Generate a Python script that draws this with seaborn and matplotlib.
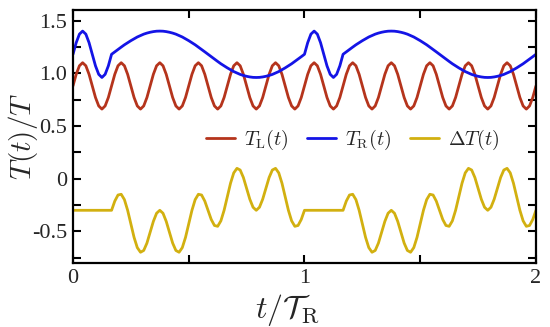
import numpy as np
import matplotlib
matplotlib.use("Agg")
import matplotlib.pyplot as plt
import seaborn as sns
from matplotlib.ticker import FixedLocator, FixedFormatter, MultipleLocator

# sample times t / T_R (uniform sampling grid, 145 samples over 0..2)
t = np.linspace(0, 2, 145)

# T_L(t)/T
T_L = [0.88, 0.99, 1.071, 1.10, 1.071, 0.99, 0.88, 0.77, 0.69, 0.66, 0.69, 0.77,
       0.88, 0.99, 1.071, 1.10, 1.071, 0.99, 0.88, 0.77, 0.69, 0.66, 0.69, 0.77,
       0.88, 0.99, 1.071, 1.10, 1.071, 0.99, 0.88, 0.77, 0.69, 0.66, 0.69, 0.77,
       0.88, 0.99, 1.071, 1.10, 1.071, 0.99, 0.88, 0.77, 0.69, 0.66, 0.69, 0.77,
       0.88, 0.99, 1.071, 1.10, 1.071, 0.99, 0.88, 0.77, 0.69, 0.66, 0.69, 0.77,
       0.88, 0.99, 1.071, 1.10, 1.071, 0.99, 0.88, 0.77, 0.69, 0.66, 0.69, 0.77,
       0.88, 0.99, 1.071, 1.10, 1.071, 0.99, 0.88, 0.77, 0.69, 0.66, 0.69, 0.77,
       0.88, 0.99, 1.071, 1.10, 1.071, 0.99, 0.88, 0.77, 0.69, 0.66, 0.69, 0.77,
       0.88, 0.99, 1.071, 1.10, 1.071, 0.99, 0.88, 0.77, 0.69, 0.66, 0.69, 0.77,
       0.88, 0.99, 1.071, 1.10, 1.071, 0.99, 0.88, 0.77, 0.69, 0.66, 0.69, 0.77,
       0.88, 0.99, 1.071, 1.10, 1.071, 0.99, 0.88, 0.77, 0.69, 0.66, 0.69, 0.77,
       0.88, 0.99, 1.071, 1.10, 1.071, 0.99, 0.88, 0.77, 0.69, 0.66, 0.69, 0.77,
       0.88]

# T_R(t)/T
T_R = [1.18, 1.29, 1.371, 1.40, 1.371, 1.29, 1.18, 1.07, 0.99, 0.96, 0.99, 1.07, 1.18,
       1.203, 1.226, 1.248, 1.270, 1.290, 1.309, 1.327, 1.344, 1.358, 1.371,
       1.381, 1.389, 1.395, 1.399, 1.400, 1.399, 1.395, 1.389, 1.381, 1.371,
       1.358, 1.344, 1.327, 1.309, 1.290, 1.270, 1.248, 1.226, 1.203, 1.180,
       1.157, 1.134, 1.112, 1.090, 1.070, 1.051, 1.033, 1.016, 1.002, 0.989,
       0.979, 0.971, 0.965, 0.961, 0.960, 0.961, 0.965, 0.971, 0.979, 0.989,
       1.002, 1.016, 1.033, 1.051, 1.070, 1.090, 1.112, 1.134, 1.157, 1.180,
       1.29, 1.371, 1.40, 1.371, 1.29, 1.18, 1.07, 0.99, 0.96, 0.99, 1.07, 1.18,
       1.203, 1.226, 1.248, 1.270, 1.290, 1.309, 1.327, 1.344, 1.358, 1.371,
       1.381, 1.389, 1.395, 1.399, 1.400, 1.399, 1.395, 1.389, 1.381, 1.371,
       1.358, 1.344, 1.327, 1.309, 1.290, 1.270, 1.248, 1.226, 1.203, 1.180,
       1.157, 1.134, 1.112, 1.090, 1.070, 1.051, 1.033, 1.016, 1.002, 0.989,
       0.979, 0.971, 0.965, 0.961, 0.960, 0.961, 0.965, 0.971, 0.979, 0.989,
       1.002, 1.016, 1.033, 1.051, 1.070, 1.090, 1.112, 1.134, 1.157, 1.180]

# Delta T(t)/T
dT = [-0.30, -0.30, -0.30, -0.30, -0.30, -0.30, -0.30, -0.30, -0.30, -0.30, -0.30, -0.30, -0.30,
      -0.213, -0.155, -0.148, -0.199, -0.300, -0.429, -0.557, -0.654, -0.698, -0.681,
      -0.611, -0.509, -0.405, -0.328, -0.300, -0.328, -0.405, -0.509, -0.611, -0.681,
      -0.698, -0.654, -0.557, -0.429, -0.300, -0.199, -0.148, -0.155, -0.213, -0.300,
      -0.387, -0.444, -0.452, -0.400, -0.300, -0.171, -0.043, 0.055, 0.098, 0.082,
      0.011, -0.091, -0.195, -0.271, -0.300, -0.271, -0.195, -0.091, 0.011, 0.082,
      0.098, 0.055, -0.043, -0.171, -0.300, -0.400, -0.452, -0.444, -0.387, -0.300,
      -0.30, -0.30, -0.30, -0.30, -0.30, -0.30, -0.30, -0.30, -0.30, -0.30, -0.30, -0.30,
      -0.213, -0.155, -0.148, -0.199, -0.300, -0.429, -0.557, -0.654, -0.698, -0.681,
      -0.611, -0.509, -0.405, -0.328, -0.300, -0.328, -0.405, -0.509, -0.611, -0.681,
      -0.698, -0.654, -0.557, -0.429, -0.300, -0.199, -0.148, -0.155, -0.213, -0.300,
      -0.387, -0.444, -0.452, -0.400, -0.300, -0.171, -0.043, 0.055, 0.098, 0.082,
      0.011, -0.091, -0.195, -0.271, -0.300, -0.271, -0.195, -0.091, 0.011, 0.082,
      0.098, 0.055, -0.043, -0.171, -0.300, -0.400, -0.452, -0.444, -0.387, -0.300]

series_labels = [r'$T_{\rm L}(t)$', r'$T_{\rm R}(t)$', r'$\Delta T(t)$']
series_colors = ['#b5341c', '#1414e6', '#d2b010']

x_ticks = [0, 1, 2]
x_ticklabels = ['0', '1', '2']
y_ticks = [-0.5, 0, 0.5, 1.0, 1.5]
y_ticklabels = ['-0.5', '0', '0.5', '1.0', '1.5']

sns.set_style("ticks")
plt.rcParams['font.family'] = ['Liberation Serif', 'DejaVu Serif']
plt.rcParams['mathtext.fontset'] = 'cm'
plt.rcParams['axes.unicode_minus'] = False

fig = plt.figure(figsize=(5.5, 3.27), dpi=100)
ax = fig.add_axes([0.1327, 0.1957, 0.8418, 0.7737])

for ys, lab, col in zip([T_L, T_R, dT], series_labels, series_colors):
    sns.lineplot(x=t, y=ys, ax=ax, color=col, lw=2.0, label=lab,
                 estimator=None, sort=False)

ax.set_xlim(0, 2)
ax.set_ylim(-0.8, 1.6)
ax.xaxis.set_major_locator(FixedLocator(x_ticks))
ax.xaxis.set_major_formatter(FixedFormatter(x_ticklabels))
ax.xaxis.set_minor_locator(MultipleLocator(0.5))
ax.yaxis.set_major_locator(FixedLocator(y_ticks))
ax.yaxis.set_major_formatter(FixedFormatter(y_ticklabels))
ax.yaxis.set_minor_locator(MultipleLocator(0.25))
ax.tick_params(which='both', direction='in', top=True, right=True,
               width=1.5, length=5.5, color='black', labelsize=16, pad=4)
for sp in ax.spines.values():
    sp.set_linewidth(1.6)
    sp.set_color('black')

ax.set_xlabel(r'$t/\mathcal{T}_{\rm R}$', fontsize=23)
ax.xaxis.set_label_coords(0.463, -0.115)
ax.set_ylabel(r'$T(t)/T$', fontsize=21)
ax.yaxis.set_label_coords(-0.072, 0.5)

ax.legend(loc='center', bbox_to_anchor=(0.604, 0.486), ncol=3, frameon=False,
          fontsize=14.5, handlelength=1.45, handletextpad=0.45, columnspacing=0.9,
          borderpad=0.2)

fig.savefig('out.png', dpi=100)
